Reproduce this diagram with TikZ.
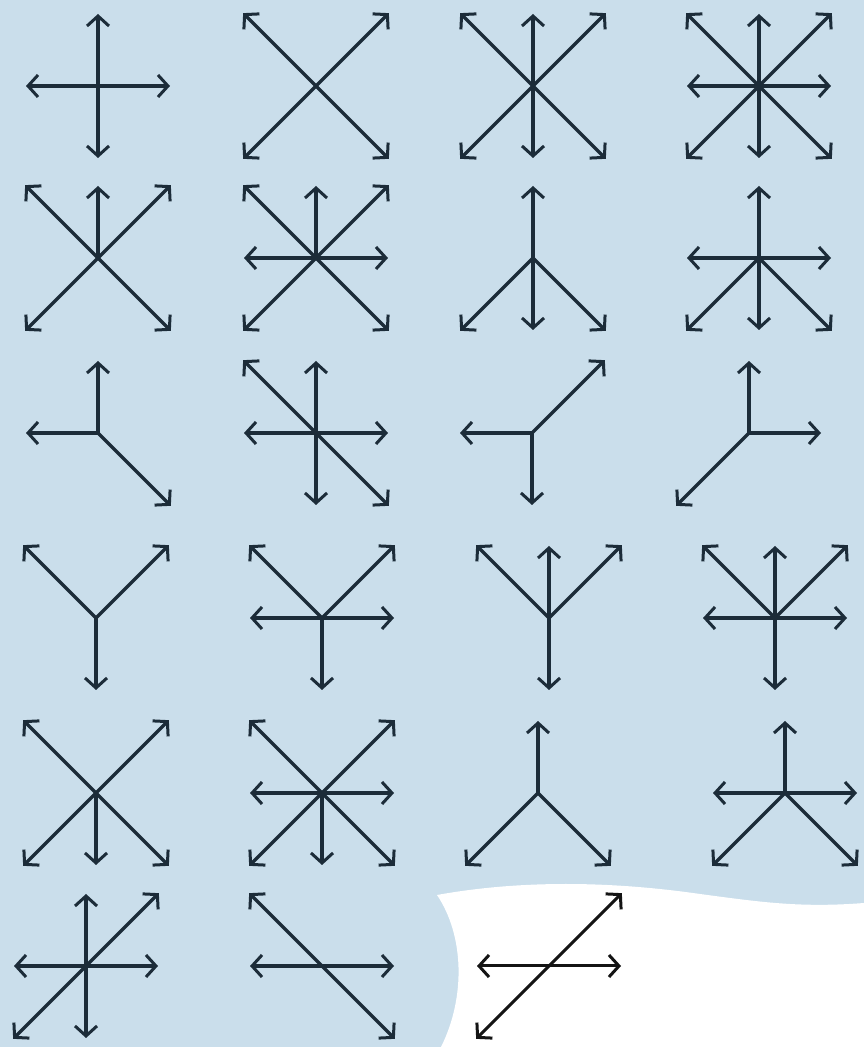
\documentclass[tikz,border=0pt]{standalone}
\usetikzlibrary{arrows.meta}
\definecolor{bgblue}{HTML}{CADEEB}
\definecolor{ink}{HTML}{1C2C39}
\tikzset{
  arm/.style={draw=ink, line width=3.3pt, line cap=butt,
    -{Straight Barb[length=10pt,width=22pt,line width=3pt]}},
  blackarm/.style={arm, draw=black!92, line width=3pt},
}
% \glyph[style]{name}{x,y}{list of angles}
\newcommand\glyph[4][arm]{%
  \coordinate (#2) at (#3);
  \foreach \a in {#4}{%
    \pgfmathsetmacro\len{mod(\a,90)==0 ? 72 : 103}%
    \path (#2) ++(\a:\len pt) coordinate (#2-\a);
    \draw[#1] (#2) -- (#2-\a);
  }%
}
\begin{document}
\begin{tikzpicture}[x=1pt,y=1pt]
\useasboundingbox (0,0) rectangle (864,1047);
\fill[bgblue] (0,0) rectangle (864,1047);
\fill[white] (441,0) .. controls (466,50) and (464,112) .. (437,152)
  .. controls (520,167) and (610,166) .. (700,153)
  .. controls (760,145) and (800,139) .. (864,144) -- (864,0) -- cycle;
% row 1
\glyph{g1}{98,961}{90,270,0,180}
\glyph{g2}{316,961}{45,135,225,315}
\glyph{g3}{533,961}{135,90,45,225,270,315}
\glyph{g4}{759,961}{0,45,90,135,180,225,270,315}
% row 2
\glyph{g5}{98,789}{135,90,45,225,315}
\glyph{g6}{316,789}{135,90,45,180,0,225,315}
\glyph{g7}{533,789}{90,225,270,315}
\glyph{g8}{759,789}{90,180,0,225,270,315}
% row 3
\glyph{g9}{98,614}{90,180,315}
\glyph{g10}{316,614}{135,90,180,0,270,315}
\glyph{g11}{532,614}{180,45,270}
\glyph{g12}{749,614}{90,0,225}
% row 4
\glyph{g13}{96,429}{135,45,270}
\glyph{g14}{322,429}{135,45,180,0,270}
\glyph{g15}{549,429}{135,90,45,270}
\glyph{g16}{775,429}{135,90,45,180,0,270}
% row 5
\glyph{g17}{96,254}{135,45,225,270,315}
\glyph{g18}{322,254}{135,45,180,0,225,270,315}
\glyph{g19}{538,254}{90,225,315}
\glyph{g20}{785,254}{90,180,0,225,315}
% row 6
\glyph{g21}{86,81}{90,45,180,0,225,270}
\glyph{g22}{322,81}{135,180,0,315}
\glyph[blackarm]{g23}{549,81}{45,180,0,225}
\end{tikzpicture}
\end{document}
